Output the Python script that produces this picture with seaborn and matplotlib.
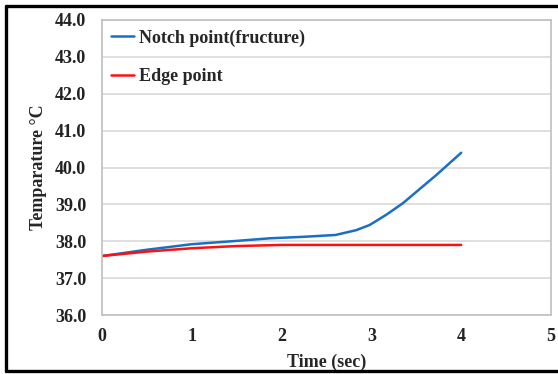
import matplotlib
matplotlib.use("Agg")
import matplotlib.pyplot as plt
import seaborn as sns
import pandas as pd
from matplotlib.lines import Line2D

time_notch = [0, 0.5, 1, 1.5, 1.87, 2.24, 2.6, 2.83, 2.98, 3.16, 3.35, 3.53, 3.72, 4.0]
temp_notch = [37.6, 37.77, 37.92, 38.01, 38.08, 38.12, 38.17, 38.3, 38.44, 38.71, 39.03, 39.4, 39.79, 40.4]
time_edge = [0, 0.5, 1, 1.5, 2, 2.5, 3, 3.5, 4]
temp_edge = [37.6, 37.72, 37.81, 37.87, 37.9, 37.9, 37.9, 37.9, 37.9]
xticks = [0, 1, 2, 3, 4, 5]
yticks = [36.0, 37.0, 38.0, 39.0, 40.0, 41.0, 42.0, 43.0, 44.0]

sns.set_theme(style="white")
plt.rcParams['font.family'] = ['Liberation Serif', 'DejaVu Serif']
plt.rcParams['font.weight'] = 'bold'

fig = plt.figure(figsize=(5.58, 3.74), dpi=100)
ax = fig.add_axes([102/558, 1-315/374, (551-102)/558, (315-20)/374])

df_n = pd.DataFrame({"t": time_notch, "T": temp_notch})
df_e = pd.DataFrame({"t": time_edge, "T": temp_edge})
sns.lineplot(data=df_n, x="t", y="T", ax=ax, color="#1a6fc4", lw=1.8, label="Notch point(fructure)")
sns.lineplot(data=df_e, x="t", y="T", ax=ax, color="#ff1010", lw=1.8, label="Edge point")
for l in ax.get_lines():
    l.set_solid_joinstyle('round')

ax.set_xlim(0, 5)
ax.set_ylim(36, 44)
ax.set_xticks(xticks)
ax.set_yticks(yticks)
ax.set_xticklabels([str(v) for v in xticks], fontsize=13, fontweight='bold')
ax.set_yticklabels([f"{v:.1f}" for v in yticks], fontsize=13, fontweight='bold')
ax.grid(axis='y', color='#d9d9d9', lw=1.2)
ax.grid(axis='x', visible=False)
ax.set_axisbelow(True)
for s in ax.spines.values():
    s.set_color('#bfbfbf')
    s.set_linewidth(1.2)
ax.tick_params(axis='both', which='both', direction='out', length=4.3, color='#bfbfbf', width=1.2, labelcolor='#222222')
ax.tick_params(axis='y', pad=7)
ax.tick_params(axis='x', pad=5)
ax.set_xlabel("Time (sec)", fontsize=13, fontweight='bold', labelpad=6)
ax.set_ylabel("Temparature \u00b0C", fontsize=13, fontweight='bold', labelpad=6)

leg = ax.legend(loc='upper left', frameon=False, fontsize=13, handlelength=1.25, handletextpad=0.28,
                labelspacing=1.2, borderaxespad=0.1, borderpad=0.42, bbox_to_anchor=(0.0, 1.0))
for t in leg.get_texts():
    t.set_fontweight('bold')

tr = fig.transFigure
fig.lines.append(Line2D([6/558, 1.0], [1-6/374, 1-6/374], transform=tr, color='black', lw=2.4))
fig.lines.append(Line2D([6/558, 6/558], [1-6/374, 1-371/374], transform=tr, color='black', lw=2.4))
fig.lines.append(Line2D([6/558, 1.0], [1-371/374, 1-371/374], transform=tr, color='black', lw=2.4))

fig.savefig("out.png", dpi=100)
